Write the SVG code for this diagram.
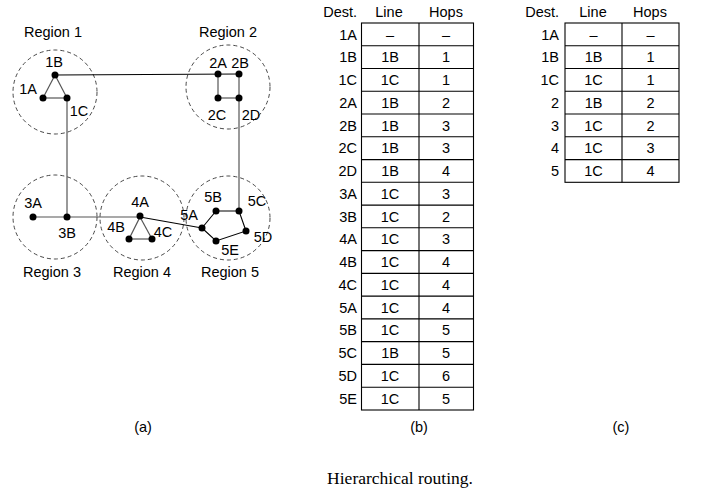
<svg xmlns="http://www.w3.org/2000/svg" width="704" height="496" viewBox="0 0 704 496">
<style>
text{font-family:"Liberation Sans",Arial,sans-serif;font-size:14.5px;fill:#000}
.c{text-anchor:middle}
.r{text-anchor:end}
.reg{fill:none;stroke:#333;stroke-width:0.9;stroke-dasharray:4 3}
.e{stroke:#555;stroke-width:1.2;fill:none}
.k{stroke:#000;stroke-width:1.1;fill:none}
.n{fill:#000}
.t{fill:none;stroke:#000;stroke-width:1.1}
.cap{font-family:"Liberation Serif","Times New Roman",serif;font-size:17.5px}
</style>
<g id="regions">
<circle class="reg" cx="55" cy="92" r="42"/>
<circle class="reg" cx="228" cy="87" r="42"/>
<circle class="reg" cx="55" cy="217" r="42"/>
<circle class="reg" cx="142" cy="218" r="42"/>
<circle class="reg" cx="228" cy="218" r="42"/>
</g>
<g id="connectors">
<line class="k" x1="55" y1="75" x2="239" y2="74"/>
<line class="e" x1="55" y1="75" x2="43" y2="98"/>
<line class="e" x1="55" y1="75" x2="67" y2="98"/>
<line class="e" x1="43" y1="98" x2="67" y2="98"/>
<line class="e" x1="67" y1="98" x2="67" y2="217"/>
<line class="e" x1="218" y1="74" x2="218" y2="98"/>
<line class="e" x1="218" y1="98" x2="239" y2="98"/>
<line class="e" x1="239" y1="74" x2="239" y2="98"/>
<line class="e" x1="239" y1="98" x2="239" y2="211"/>
<line class="e" x1="33" y1="217" x2="140" y2="217"/>
<line class="k" x1="140" y1="217" x2="202" y2="228"/>
<line class="e" x1="140" y1="217" x2="129" y2="239"/>
<line class="e" x1="140" y1="217" x2="152" y2="239"/>
<line class="e" x1="129" y1="239" x2="152" y2="239"/>
<polyline class="k" points="202,228 216,211 239,211 246,231 216,241 202,228"/>
</g>
<g id="node-1A"><circle class="n" cx="43" cy="98" r="3.5"/><text class="c" x="28" y="94">1A</text></g>
<g id="node-1B"><circle class="n" cx="55" cy="75" r="3.5"/><text class="c" x="54" y="67">1B</text></g>
<g id="node-1C"><circle class="n" cx="67" cy="98" r="3.5"/><text class="c" x="79" y="116">1C</text></g>
<g id="node-2A"><circle class="n" cx="218" cy="74" r="3.5"/><text class="c" x="218" y="68">2A</text></g>
<g id="node-2B"><circle class="n" cx="239" cy="74" r="3.5"/><text class="c" x="240" y="68">2B</text></g>
<g id="node-2C"><circle class="n" cx="218" cy="98" r="3.5"/><text class="c" x="217" y="120">2C</text></g>
<g id="node-2D"><circle class="n" cx="239" cy="98" r="3.5"/><text class="c" x="251" y="120">2D</text></g>
<g id="node-3A"><circle class="n" cx="33" cy="217" r="3.5"/><text class="c" x="33" y="208">3A</text></g>
<g id="node-3B"><circle class="n" cx="67" cy="217" r="3.5"/><text class="c" x="67" y="238">3B</text></g>
<g id="node-4A"><circle class="n" cx="140" cy="216" r="3.5"/><text class="c" x="140" y="207">4A</text></g>
<g id="node-4B"><circle class="n" cx="129" cy="239" r="3.5"/><text class="c" x="116" y="232">4B</text></g>
<g id="node-4C"><circle class="n" cx="152" cy="239" r="3.5"/><text class="c" x="163" y="237">4C</text></g>
<g id="node-5A"><circle class="n" cx="202" cy="228" r="3.5"/><text class="c" x="189" y="220">5A</text></g>
<g id="node-5B"><circle class="n" cx="216" cy="211" r="3.5"/><text class="c" x="213" y="202">5B</text></g>
<g id="node-5C"><circle class="n" cx="239" cy="211" r="3.5"/><text class="c" x="257" y="206">5C</text></g>
<g id="node-5D"><circle class="n" cx="246" cy="231" r="3.5"/><text class="c" x="263" y="242">5D</text></g>
<g id="node-5E"><circle class="n" cx="216" cy="241" r="3.5"/><text class="c" x="230" y="255">5E</text></g>
<g id="labels-a">
<text class="c" x="53" y="37">Region 1</text>
<text class="c" x="228" y="37">Region 2</text>
<text class="c" x="52" y="277">Region 3</text>
<text class="c" x="142" y="277">Region 4</text>
<text class="c" x="230" y="277">Region 5</text>
<text class="c" x="143" y="432">(a)</text>
</g>
<g id="table-b">
<text class="r" x="357" y="17">Dest.</text>
<text class="c" x="389" y="17">Line</text>
<text class="c" x="446" y="17">Hops</text>
<rect class="t" x="361.5" y="23" width="112" height="387"/>
<line class="t" x1="419" y1="23" x2="419" y2="410"/>
<path class="t" d="M361.5 45.8H473.5M361.5 68.5H473.5M361.5 91.3H473.5M361.5 114H473.5M361.5 136.8H473.5M361.5 159.6H473.5M361.5 182.3H473.5M361.5 205.1H473.5M361.5 227.8H473.5M361.5 250.6H473.5M361.5 273.4H473.5M361.5 296.1H473.5M361.5 318.9H473.5M361.5 341.6H473.5M361.5 364.4H473.5M361.5 387.2H473.5"/>
<text class="r" x="357" y="39.5">1A</text><text class="r" x="357" y="62.3">1B</text><text class="r" x="357" y="85">1C</text><text class="r" x="357" y="107.8">2A</text><text class="r" x="357" y="130.5">2B</text><text class="r" x="357" y="153.3">2C</text><text class="r" x="357" y="176.1">2D</text><text class="r" x="357" y="198.8">3A</text><text class="r" x="357" y="221.6">3B</text><text class="r" x="357" y="244.3">4A</text><text class="r" x="357" y="267.1">4B</text><text class="r" x="357" y="289.9">4C</text><text class="r" x="357" y="312.6">5A</text><text class="r" x="357" y="335.4">5B</text><text class="r" x="357" y="358.1">5C</text><text class="r" x="357" y="380.9">5D</text><text class="r" x="357" y="403.7">5E</text>
<text class="c" x="390" y="39.5">–</text><text class="c" x="390" y="62.3">1B</text><text class="c" x="390" y="85">1C</text><text class="c" x="390" y="107.8">1B</text><text class="c" x="390" y="130.5">1B</text><text class="c" x="390" y="153.3">1B</text><text class="c" x="390" y="176.1">1B</text><text class="c" x="390" y="198.8">1C</text><text class="c" x="390" y="221.6">1C</text><text class="c" x="390" y="244.3">1C</text><text class="c" x="390" y="267.1">1C</text><text class="c" x="390" y="289.9">1C</text><text class="c" x="390" y="312.6">1C</text><text class="c" x="390" y="335.4">1C</text><text class="c" x="390" y="358.1">1B</text><text class="c" x="390" y="380.9">1C</text><text class="c" x="390" y="403.7">1C</text>
<text class="c" x="446" y="39.5">–</text><text class="c" x="446" y="62.3">1</text><text class="c" x="446" y="85">1</text><text class="c" x="446" y="107.8">2</text><text class="c" x="446" y="130.5">3</text><text class="c" x="446" y="153.3">3</text><text class="c" x="446" y="176.1">4</text><text class="c" x="446" y="198.8">3</text><text class="c" x="446" y="221.6">2</text><text class="c" x="446" y="244.3">3</text><text class="c" x="446" y="267.1">4</text><text class="c" x="446" y="289.9">4</text><text class="c" x="446" y="312.6">4</text><text class="c" x="446" y="335.4">5</text><text class="c" x="446" y="358.1">5</text><text class="c" x="446" y="380.9">6</text><text class="c" x="446" y="403.7">5</text>
<text class="c" x="419" y="432">(b)</text>
</g>
<g id="table-c">
<text class="r" x="559" y="17">Dest.</text>
<text class="c" x="593" y="17">Line</text>
<text class="c" x="650" y="17">Hops</text>
<rect class="t" x="565" y="23" width="114" height="159.3"/>
<line class="t" x1="622" y1="23" x2="622" y2="182.3"/>
<path class="t" d="M565 45.8H679M565 68.5H679M565 91.3H679M565 114H679M565 136.8H679M565 159.6H679"/>
<text class="r" x="559" y="39.5">1A</text><text class="r" x="559" y="62.3">1B</text><text class="r" x="559" y="85">1C</text><text class="r" x="559" y="107.8">2</text><text class="r" x="559" y="130.5">3</text><text class="r" x="559" y="153.3">4</text><text class="r" x="559" y="176.1">5</text>
<text class="c" x="593.5" y="39.5">–</text><text class="c" x="593.5" y="62.3">1B</text><text class="c" x="593.5" y="85">1C</text><text class="c" x="593.5" y="107.8">1B</text><text class="c" x="593.5" y="130.5">1C</text><text class="c" x="593.5" y="153.3">1C</text><text class="c" x="593.5" y="176.1">1C</text>
<text class="c" x="650.5" y="39.5">–</text><text class="c" x="650.5" y="62.3">1</text><text class="c" x="650.5" y="85">1</text><text class="c" x="650.5" y="107.8">2</text><text class="c" x="650.5" y="130.5">2</text><text class="c" x="650.5" y="153.3">3</text><text class="c" x="650.5" y="176.1">4</text>
<text class="c" x="621" y="432">(c)</text>
</g>
<text class="cap c" x="400" y="484">Hierarchical routing.</text>
</svg>
